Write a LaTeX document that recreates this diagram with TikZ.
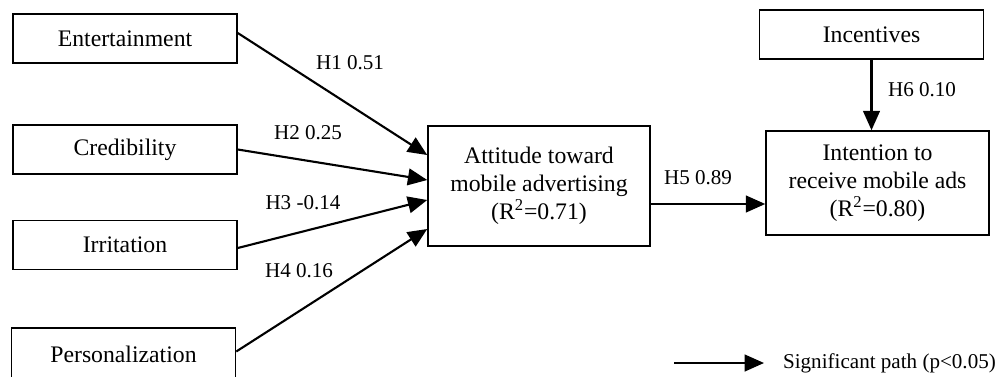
\documentclass[tikz,border=0pt]{standalone}
\usepackage{fontspec}
\setmainfont{Liberation Serif}
\usetikzlibrary{arrows.meta}

\tikzset{
  construct/.style={draw, line width=0.9pt, minimum width=4.48cm, minimum height=0.98cm,
    align=center, inner sep=2pt, font=\fontsize{13.5}{16}\selectfont},
  path/.style={line width=1.2pt, -{Triangle[length=11pt,width=9.5pt]}},
  coef/.style={font=\fontsize{12}{14}\selectfont, inner sep=1pt}
}

\begin{document}
\begin{tikzpicture}[x=0.02cm, y=-0.02cm]

  \useasboundingbox (0,0) rectangle (1000,376);

  % exogenous constructs
  \node[construct] (ent) at (125,38.5) {Entertainment};
  \node[construct] (cred) at (125,149.5) {Credibility};
  \node[construct] (irr) at (125,245) {Irritation};
  \node[construct, minimum height=1.06cm] (pers) at (123.5,354.5) {Personalization};
  \node[construct] (inc) at (871.5,34.5) {Incentives};

  % endogenous constructs
  \node[construct, minimum width=4.44cm, minimum height=2.4cm] (att) at (539,186)
    {Attitude toward\\mobile advertising\\(R\textsuperscript{2}=0.71)};
  \node[construct, minimum width=4.46cm, minimum height=2.08cm] (int) at (877.5,183)
    {Intention to\\receive mobile ads\\(R\textsuperscript{2}=0.80)};

  % paths
  \draw[path] ([yshift=0.11cm]ent.east) -- ([yshift=0.62cm]att.west);
  \draw[path] (cred.east) -- ([yshift=0.12cm]att.west);
  \draw[path] ([yshift=-0.06cm]irr.east) -- ([yshift=-0.28cm]att.west);
  \draw[path] ([yshift=0.06cm]pers.east) -- ([yshift=-0.86cm]att.west);
  \draw[path] ([yshift=-0.36cm]att.east) -- ([yshift=-0.36cm]att.east -| int.west);
  \draw[path] (inc.south) -- (inc.south |- int.north);

  % path coefficients
  \node[coef] (h1) at (350,63) {H1 0.51};
  \node[coef] (h2) at (308,133) {H2 0.25};
  \node[coef] (h3) at (303,203) {H3 -0.14};
  \node[coef] (h4) at (299,271) {H4 0.16};
  \node[coef] (h5) at (698,178) {H5 0.89};
  \node[coef] (h6) at (922,90) {H6 0.10};

  % legend
  \coordinate (legA) at (674,363);
  \coordinate (legB) at (764,363);
  \draw[path] (legA) -- (legB);
  \node[coef, anchor=west] (leg) at (781,363) {Significant path (p<0.05)};

\end{tikzpicture}
\end{document}
